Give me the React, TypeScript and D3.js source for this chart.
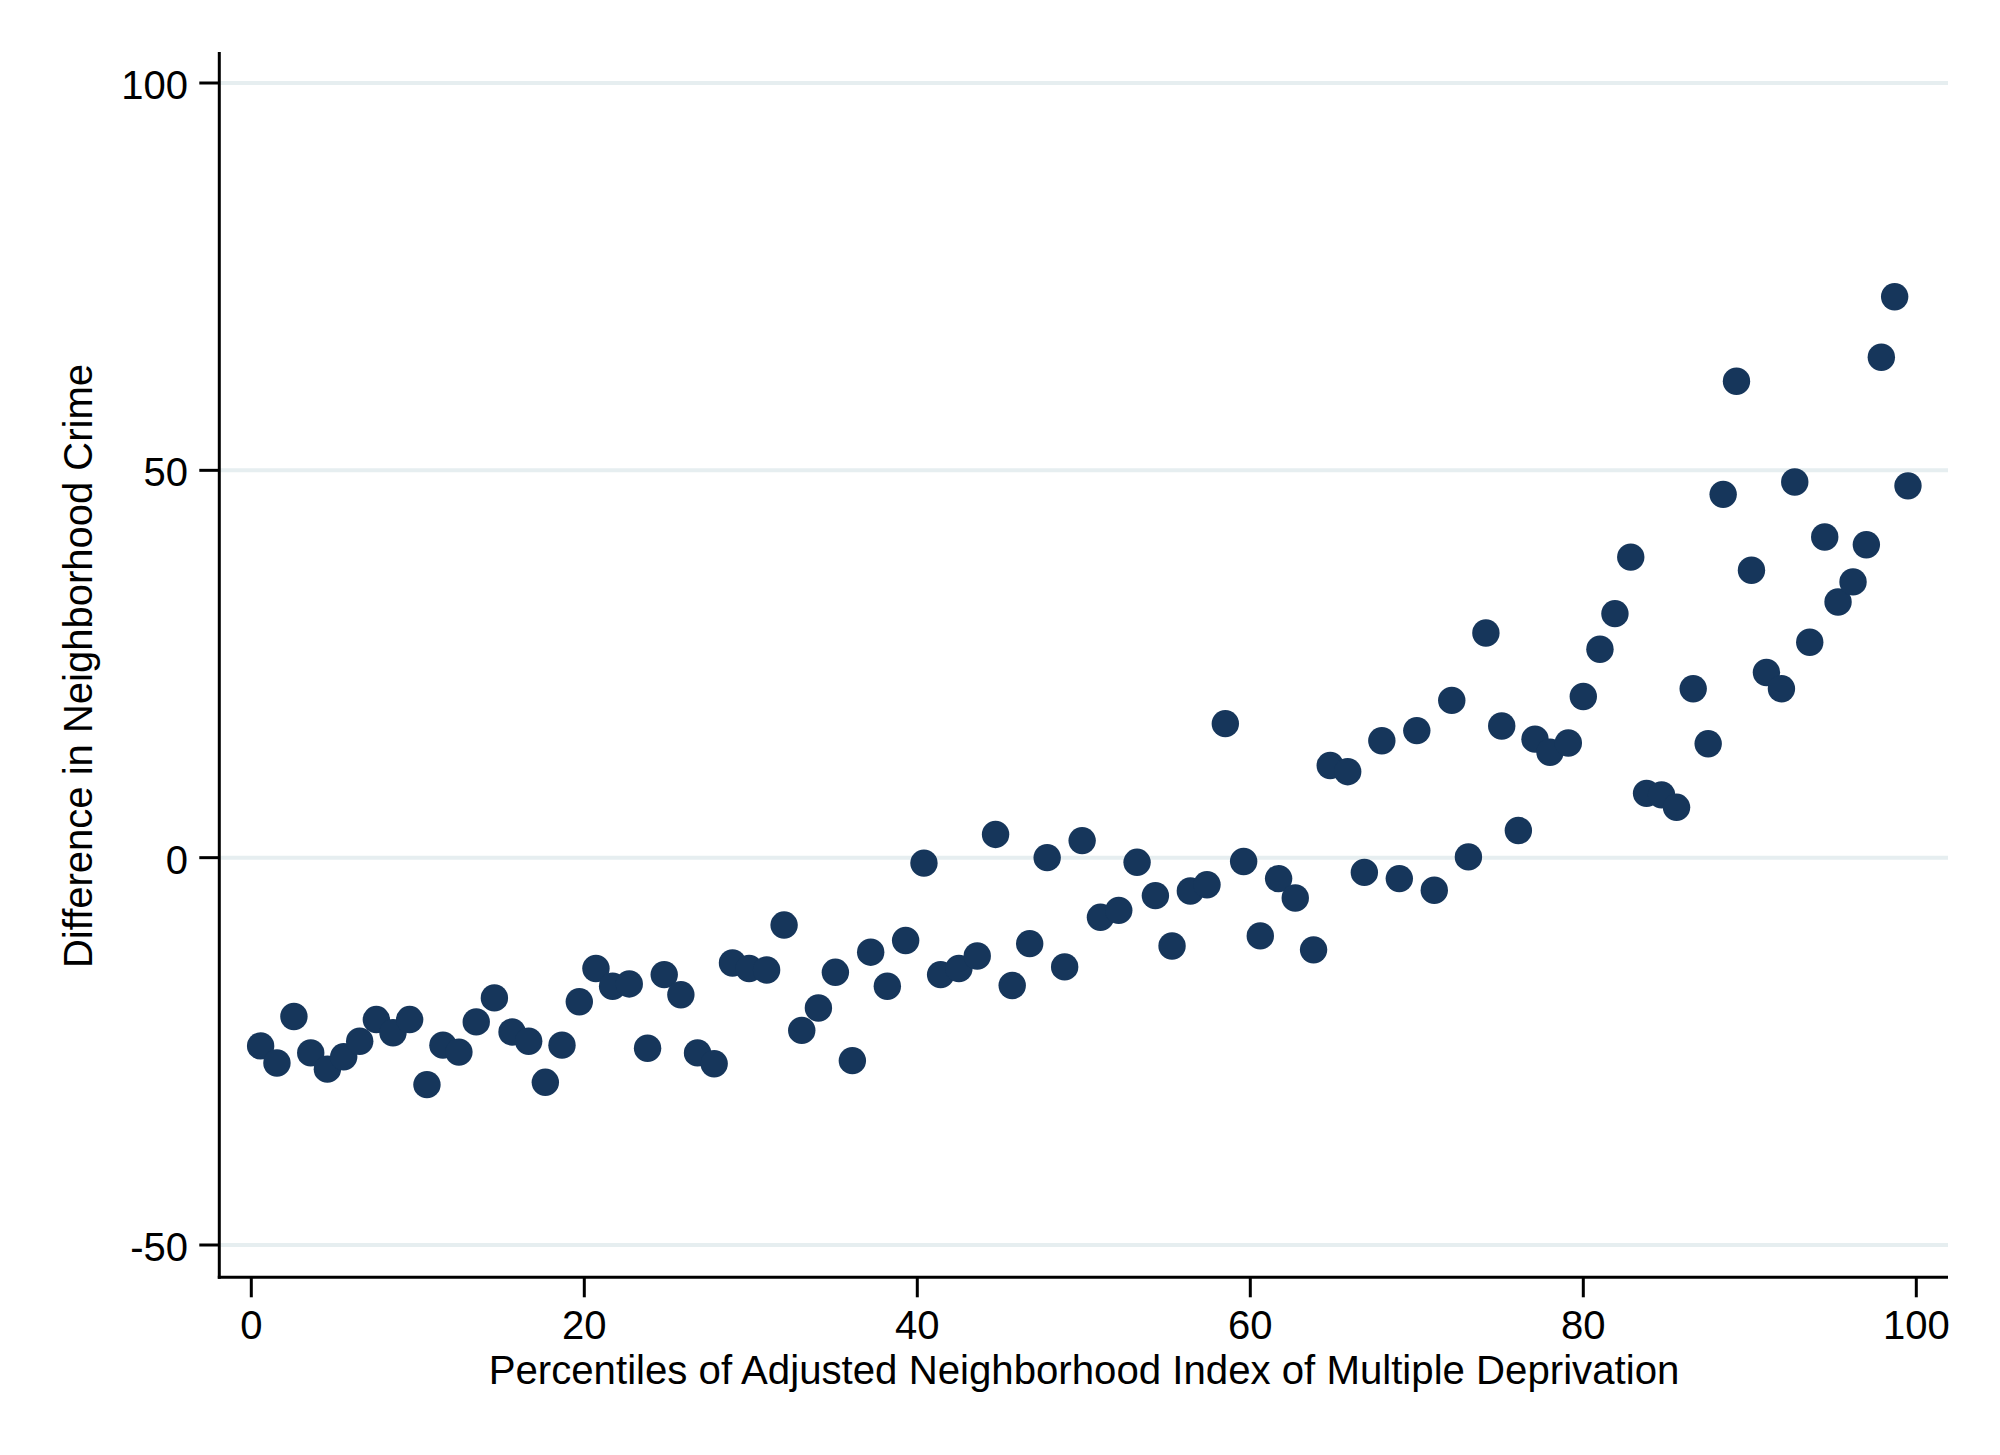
import React from "react";
import * as d3 from "d3";

const percentiles: number[] = [
  0.56, 1.54, 2.56, 3.57, 4.57, 5.55, 6.51, 7.51, 8.51, 9.51, 10.55, 11.51, 12.47, 13.51, 14.6, 15.66, 16.66, 17.66, 18.66, 19.7, 20.7,
  21.7, 22.7, 23.8, 24.8, 25.8, 26.8, 27.8, 28.9, 29.9, 30.95, 32.0, 33.06, 34.06, 35.08, 36.1, 37.2, 38.2, 39.3, 40.4, 41.4,
  42.5, 43.6, 44.7, 45.7, 46.75, 47.8, 48.85, 49.9, 51.0, 52.1, 53.2, 54.3, 55.3, 56.4, 57.4, 58.5, 59.6, 60.6, 61.7, 62.7,
  63.8, 64.8, 65.85, 66.85, 67.9, 68.95, 70.0, 71.05, 72.1, 73.1, 74.15, 75.1, 76.1, 77.1, 78.0, 79.1, 80.0, 81.0, 81.9, 82.85, 83.8,
  84.7, 85.6, 86.6, 87.5, 88.4, 89.2, 90.1, 91.0, 91.9, 92.7, 93.6, 94.5, 95.3, 96.2, 97.0, 97.9, 98.7, 99.5,
];

const crimeDiff: number[] = [
  -24.3, -26.5, -20.5, -25.2, -27.3, -25.7, -23.7, -20.9, -22.6, -20.9, -29.3, -24.2, -25.1, -21.2, -18.1, -22.5, -23.7, -29.0, -24.2, -18.6, -14.3,
  -16.6, -16.3, -24.6, -15.1, -17.7, -25.2, -26.6, -13.6, -14.3, -14.5, -8.7, -22.3, -19.4, -14.8, -26.2, -12.2, -16.6, -10.7, -0.7, -15.1,
  -14.3, -12.7, 3.0, -16.5, -11.1, 0.0, -14.1, 2.2, -7.7, -6.8, -0.6, -4.9, -11.4, -4.3, -3.5, 17.3, -0.5, -10.1, -2.7, -5.2,
  -11.9, 11.9, 11.1, -1.9, 15.1, -2.7, 16.4, -4.2, 20.3, 0.1, 29.0, 17.0, 3.5, 15.3, 13.6, 14.8, 20.8, 26.9, 31.5, 38.8, 8.3,
  8.1, 6.5, 21.8, 14.7, 46.9, 61.5, 37.1, 23.9, 21.8, 48.5, 27.8, 41.4, 33.0, 35.6, 40.4, 64.6, 72.4, 48.0,
];

const xTicks: number[] = [0, 20, 40, 60, 80, 100];
const yTicks: number[] = [-50, 0, 50, 100];

const xTitle = "Percentiles of Adjusted Neighborhood Index of Multiple Deprivation";
const yTitle = "Difference in Neighborhood Crime";

const W = 2000;
const H = 1455;
const FONT = "'Liberation Sans', Arial, Helvetica, sans-serif";

export default function App() {
  const x = d3.scaleLinear().domain([0, 100]).range([251.3, 1916.3]);
  const y = d3.scaleLinear().domain([-50, 100]).range([1245, 83]);

  const left = 219.3;
  const right = 1948;
  const top = 52;
  const bottom = 1277.3;

  const points = percentiles.map((p, i) => ({ p, v: crimeDiff[i] }));

  return (
    <svg
      width={W}
      height={H}
      viewBox={`0 0 ${W} ${H}`}
      style={{ position: "fixed", left: 0, top: 0, background: "#fff" }}
    >
      <rect x={0} y={0} width={W} height={H} fill="#ffffff" />
      {yTicks.map((t) => (
        <line key={"g" + t} x1={left} x2={right} y1={y(t)} y2={y(t)} stroke="#e6eef0" strokeWidth={4} />
      ))}
      {points.map((d, i) => (
        <circle key={i} cx={x(d.p)} cy={y(d.v)} r={13.7} fill="#16365b" />
      ))}
      <line x1={left} x2={left} y1={top} y2={bottom + 1.5} stroke="#000" strokeWidth={3} />
      <line x1={left - 1.5} x2={right} y1={bottom} y2={bottom} stroke="#000" strokeWidth={3} />
      {yTicks.map((t) => (
        <g key={"yt" + t}>
          <line x1={left - 20} x2={left} y1={y(t)} y2={y(t)} stroke="#000" strokeWidth={3} />
          <text x={188} y={y(t) + 16} textAnchor="end" fontFamily={FONT} fontSize={40} fill="#000">
            {t}
          </text>
        </g>
      ))}
      {xTicks.map((t) => (
        <g key={"xt" + t}>
          <line x1={x(t)} x2={x(t)} y1={bottom} y2={bottom + 20} stroke="#000" strokeWidth={3} />
          <text x={x(t)} y={1339} textAnchor="middle" fontFamily={FONT} fontSize={40} fill="#000">
            {t}
          </text>
        </g>
      ))}
      <text x={1084} y={1384} textAnchor="middle" fontFamily={FONT} fontSize={40.2} fill="#000">
        {xTitle}
      </text>
      <text
        transform={`translate(91.7, 666) rotate(-90)`}
        textAnchor="middle"
        fontFamily={FONT}
        fontSize={40}
        fill="#000"
      >
        {yTitle}
      </text>
    </svg>
  );
}
